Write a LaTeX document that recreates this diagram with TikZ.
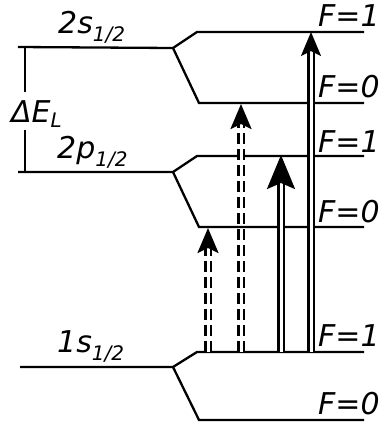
\documentclass[tikz,border=0pt]{standalone}
\usepackage{fontspec}
\setmainfont{DejaVu Sans}
\usetikzlibrary{arrows.meta}

\newcommand{\halfsub}[2][-8pt]{\raisebox{#1}{\fontsize{20}{20}\selectfont #2}}

\begin{document}
\begin{tikzpicture}[x=1pt, y=-1pt,
  level/.style={line width=2.3pt},
  brace/.style={line width=1.3pt},
  lbl/.style={font=\fontsize{30}{30}\selectfont\itshape, inner sep=0pt,
              anchor=base west},
  trans/.style={double, line width=2.6pt, double distance=3pt},
  dtrans/.style={trans, dash pattern=on 11pt off 5pt},
]
  \useasboundingbox (0,0) rectangle (382,426);

  %% 2s_{1/2} and its two F levels
  \coordinate (s2a)  at (18,47);
  \coordinate (s2b)  at (173,48);
  \coordinate (s2up) at (197,32);
  \coordinate (s2F1) at (364,32);
  \coordinate (s2dn) at (199,103);
  \coordinate (s2F0) at (364,103);
  \draw[level] (s2a) -- (s2b) -- (s2up) -- (s2F1);
  \draw[level] (s2b) -- (s2dn) -- (s2F0);

  %% 2p_{1/2}
  \coordinate (p2a)  at (18,172);
  \coordinate (p2b)  at (173,172);
  \coordinate (p2up) at (197,156);
  \coordinate (p2F1) at (364,156);
  \coordinate (p2dn) at (199,227);
  \coordinate (p2F0) at (364,227);
  \draw[level] (p2a) -- (p2b) -- (p2up) -- (p2F1);
  \draw[level] (p2b) -- (p2dn) -- (p2F0);

  %% 1s_{1/2}
  \coordinate (s1a)  at (20,367);
  \coordinate (s1b)  at (173,367);
  \coordinate (s1up) at (197,352);
  \coordinate (s1F1) at (364,352);
  \coordinate (s1dn) at (199,420);
  \coordinate (s1F0) at (364,420);
  \draw[level] (s1a) -- (s1b) -- (s1up) -- (s1F1);
  \draw[level] (s1b) -- (s1dn) -- (s1F0);

  %% level names
  \node[lbl] (n2s) at (58,33)  {2s\halfsub{1/2}};
  \node[lbl] (n2p) at (57,158) {2p\halfsub{1/2}};
  \node[lbl] (n1s) at (57,352) {1s\halfsub{1/2}};

  %% F labels
  \node[lbl] (f2s1) at (318,26)  {F=1};
  \node[lbl] (f2s0) at (318,97)  {F=0};
  \node[lbl] (f2p1) at (318,152) {F=1};
  \node[lbl] (f2p0) at (318,222) {F=0};
  \node[lbl] (f1s1) at (318,346) {F=1};
  \node[lbl] (f1s0) at (318,414) {F=0};

  %% Lamb shift bracket
  \node[lbl] (dE) at (11,122) {ΔE\halfsub[-5pt]{L}};
  \coordinate (brT) at (25,47);
  \coordinate (brB) at (25,172);
  \draw[brace] (brT) -- ++(0,45);
  \draw[brace] (brB) -- ++(0,-42);

  %% transitions
  \coordinate (t1a) at (208,352); \coordinate (t1b) at (208,228);
  \coordinate (t2a) at (241,352); \coordinate (t2b) at (241,104);
  \coordinate (t3a) at (281,352); \coordinate (t3b) at (281,155);
  \coordinate (t4a) at (311,352); \coordinate (t4b) at (311,32);
  \draw[dtrans, -{Stealth[length=25pt,width=21pt,inset=5pt]}] (t1a) -- (t1b);
  \draw[dtrans, -{Stealth[length=25pt,width=21pt,inset=5pt]}] (t2a) -- (t2b);
  \draw[trans, -{Stealth[length=34pt,width=28pt,inset=6pt]}] (t3a) -- (t3b);
  \draw[trans, -{Stealth[length=24pt,width=20pt,inset=5pt]}] (t4a) -- (t4b);
\end{tikzpicture}
\end{document}
